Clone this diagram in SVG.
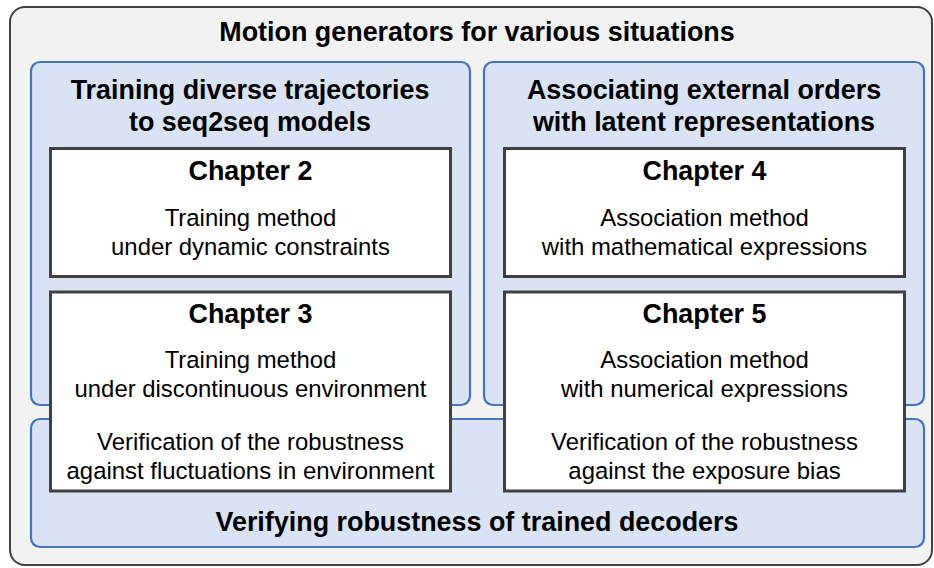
<svg xmlns="http://www.w3.org/2000/svg" width="934" height="568" viewBox="0 0 934 568">
  <style>
    .outer { fill: #f2f2f2; stroke: #404040; stroke-width: 2; }
    .group { fill: #dae3f3; stroke: #4472c4; stroke-width: 2.2; }
    .chap { fill: #ffffff; stroke: #404040; stroke-width: 3; }
    .h { font-family: "Liberation Sans", Arial, sans-serif; font-weight: bold; font-size: 26.9px; fill: #000; text-anchor: middle; }
    .t { font-family: "Liberation Sans", Arial, sans-serif; font-size: 23.9px; fill: #000; text-anchor: middle; }
  </style>

  <!-- outer frame -->
  <g id="frame">
    <rect class="outer" x="10" y="7" width="922" height="558" rx="15"/>
    <text class="h" x="477" y="41">Motion generators for various situations</text>
  </g>

  <!-- theme groups -->
  <g id="group-training">
    <rect class="group" x="31" y="62" width="439" height="343" rx="9"/>
    <text class="h" x="250" y="99">Training diverse trajectories</text>
    <text class="h" x="250" y="131">to seq2seq models</text>
  </g>
  <g id="group-association">
    <rect class="group" x="484" y="62" width="440" height="343" rx="9"/>
    <text class="h" x="704" y="99">Associating external orders</text>
    <text class="h" x="704" y="131">with latent representations</text>
  </g>
  <g id="group-robustness">
    <rect class="group" x="31" y="419" width="893" height="128" rx="9"/>
    <text class="h" x="477" y="531">Verifying robustness of trained decoders</text>
  </g>

  <!-- chapters -->
  <g id="chapter2">
    <rect class="chap" x="50.5" y="148.5" width="400" height="128"/>
    <text class="h" x="250.5" y="180">Chapter 2</text>
    <text class="t" x="250.5" y="226">Training method</text>
    <text class="t" x="250.5" y="255">under dynamic constraints</text>
  </g>
  <g id="chapter3">
    <rect class="chap" x="50.5" y="292" width="400" height="199"/>
    <text class="h" x="250.5" y="323">Chapter 3</text>
    <text class="t" x="250.5" y="368">Training method</text>
    <text class="t" x="250.5" y="397">under discontinuous environment</text>
    <text class="t" x="250.5" y="450">Verification of the robustness</text>
    <text class="t" x="250.5" y="479">against fluctuations in environment</text>
  </g>
  <g id="chapter4">
    <rect class="chap" x="504.5" y="148.5" width="400" height="128"/>
    <text class="h" x="704.5" y="180">Chapter 4</text>
    <text class="t" x="704.5" y="226">Association method</text>
    <text class="t" x="704.5" y="255">with mathematical expressions</text>
  </g>
  <g id="chapter5">
    <rect class="chap" x="504.5" y="292" width="400" height="199"/>
    <text class="h" x="704.5" y="323">Chapter 5</text>
    <text class="t" x="704.5" y="368">Association method</text>
    <text class="t" x="704.5" y="397">with numerical expressions</text>
    <text class="t" x="704.5" y="450">Verification of the robustness</text>
    <text class="t" x="704.5" y="479">against the exposure bias</text>
  </g>

  <g id="connectors"/>
</svg>
